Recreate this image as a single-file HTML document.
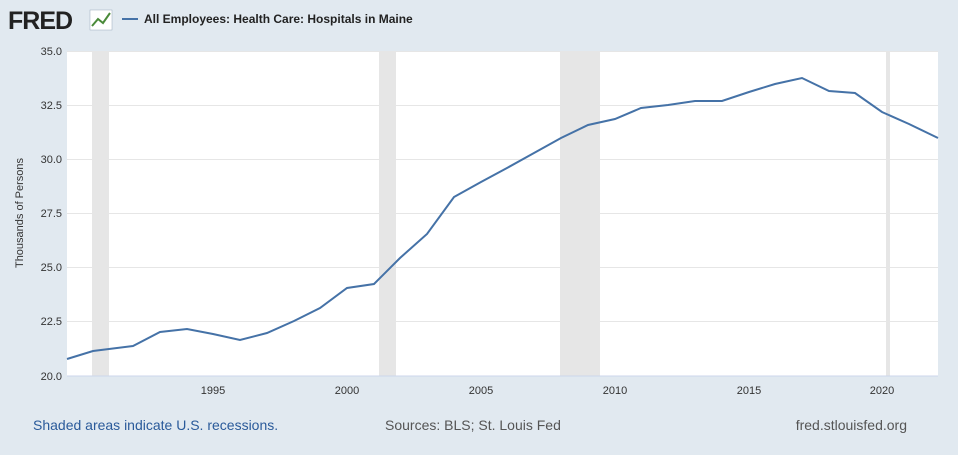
<!DOCTYPE html>
<html><head><style>
body{margin:0;background:#e1e9f0;width:958px;height:450px;overflow:hidden;font-family:"Liberation Sans",sans-serif}
</style></head><body>
<svg width="958" height="450" xmlns="http://www.w3.org/2000/svg" font-family="Liberation Sans, sans-serif">
<rect width="958" height="450" fill="#e1e9f0"/>
<text x="8" y="29" font-size="25" font-weight="bold" fill="#222" letter-spacing="-1">FRED</text>
<rect x="90" y="10" width="22" height="20" fill="#fff" stroke="#9ab" stroke-width="0.5"/>
<polyline points="92,26 98,19 103,23 110,13" fill="none" stroke="#4a8a3a" stroke-width="2"/>
<line x1="122" y1="19" x2="138" y2="19" stroke="#4572a7" stroke-width="2"/>
<text x="144" y="23" font-size="12" font-weight="bold" fill="#222">All Employees: Health Care: Hospitals in Maine</text>
<rect x="67" y="51" width="871" height="325" fill="#fff"/>
<g fill="#e6e6e6"><rect x="92" y="51" width="17" height="325"/><rect x="379" y="51" width="17" height="325"/><rect x="560" y="51" width="40" height="325"/><rect x="886" y="51" width="4" height="325"/></g>
<g stroke="#e6e6e6" stroke-width="1"><line x1="67" x2="938" y1="51.5" y2="51.5"/><line x1="67" x2="938" y1="105.5" y2="105.5"/><line x1="67" x2="938" y1="159.5" y2="159.5"/><line x1="67" x2="938" y1="213.5" y2="213.5"/><line x1="67" x2="938" y1="267.5" y2="267.5"/><line x1="67" x2="938" y1="321.5" y2="321.5"/></g>
<line x1="67" x2="938" y1="376" y2="376" stroke="#ccd6eb"/>
<g font-size="11" fill="#333" text-anchor="end"><text x="62" y="55">35.0</text><text x="62" y="109">32.5</text><text x="62" y="163">30.0</text><text x="62" y="217">27.5</text><text x="62" y="271">25.0</text><text x="62" y="325">22.5</text><text x="62" y="380">20.0</text></g>
<g font-size="11" fill="#333" text-anchor="middle"><text x="213" y="394">1995</text><text x="347" y="394">2000</text><text x="481" y="394">2005</text><text x="615" y="394">2010</text><text x="749" y="394">2015</text><text x="882" y="394">2020</text></g>
<text transform="translate(23,213) rotate(-90)" font-size="11" fill="#333" text-anchor="middle">Thousands of Persons</text>
<polyline fill="none" stroke="#4572a7" stroke-width="2" points="67,359 93,351 133,346 160,332 187,329 213,334 240,340 267,333 294,321 320,308 347,288 374,284 400,258 427,234 454,197 481,182 507,168 534,153 561,138 588,125 615,119 641,108 668,105 695,101 722,101 749,92 775,84 802,78 829,91 855,93 882,112 909,124 938,138"/>
<text x="33" y="430" font-size="14" fill="#2a5a9a">Shaded areas indicate U.S. recessions.</text>
<text x="385" y="430" font-size="14" fill="#555">Sources: BLS; St. Louis Fed</text>
<text x="907" y="430" font-size="14" fill="#555" text-anchor="end">fred.stlouisfed.org</text>
</svg>
</body></html>
